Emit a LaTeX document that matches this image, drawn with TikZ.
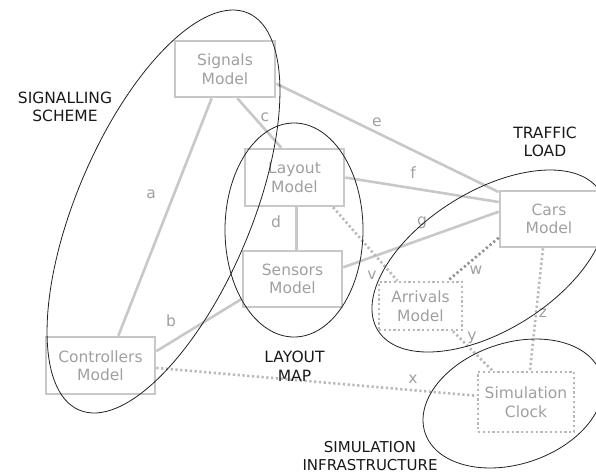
\documentclass[tikz,border=0pt]{standalone}
\usepackage{fontspec}
\setmainfont{DejaVu Sans}
\usetikzlibrary{calc}
\definecolor{boxc}{HTML}{C8C8C8}
\definecolor{txtc}{HTML}{A0A0A0}
\definecolor{dotc}{HTML}{B8B8B8}
\definecolor{dotd}{HTML}{909090}
\definecolor{ellc}{HTML}{222222}
\begin{document}
\begin{tikzpicture}[x=1pt,y=-1pt,
  model/.style={draw=boxc,line width=2.6pt,text=txtc,align=center,inner sep=0pt,
    font=\fontsize{15.5}{18.5}\selectfont},
  dmodel/.style={model,draw=dotc,dash pattern=on 2.2pt off 2.6pt},
  link/.style={draw=boxc,line width=2.6pt},
  dlink/.style={draw=dotc,line width=2.6pt,dash pattern=on 2.2pt off 2.6pt},
  dlinkdark/.style={dlink,draw=dotd},
  lbl/.style={text=txtc,font=\fontsize{15.5}{18.5}\selectfont,inner sep=0pt},
  group/.style={text=black!90,align=center,font=\fontsize{15.5}{18.5}\selectfont,inner sep=0pt},
  hull/.style={draw=ellc,line width=0.8pt}]
\useasboundingbox (0,0) rectangle (596,475);
\clip (0,0) rectangle (596,475);

% boxes
\node[model,minimum width=100pt,minimum height=56pt] (sig) at (225,69) {Signals\\Model};
\node[model,minimum width=99pt,minimum height=57pt] (lay) at (294.5,177.5) {Layout\\Model};
\node[model,minimum width=99pt,minimum height=56pt] (sen) at (292.5,279) {Sensors\\Model};
\node[model,minimum width=109pt,minimum height=57pt] (con) at (100.5,365.5) {Controllers\\Model};
\node[model,minimum width=98pt,minimum height=56pt] (car) at (549,219) {Cars\\Model};
\node[dmodel,minimum width=83pt,minimum height=48pt] (arr) at (420.5,306) {Arrivals\\Model};
\node[dmodel,minimum width=96pt,minimum height=60pt] (clk) at (526,402) {Simulation\\Clock};

% solid connectors
\draw[link] ($(sig.south west)!0.37!(sig.south east)$) -- ($(con.north west)!0.66!(con.north east)$);
\draw[link] ($(con.north east)!0.26!(con.south east)$) -- ($(sen.north west)!0.84!(sen.south west)$);
\draw[link] ($(sig.south west)!0.62!(sig.south east)$) -- ($(lay.north west)!0.37!(lay.north east)$);
\draw[link] ($(lay.south west)!0.52!(lay.south east)$) coordinate (dtop) -- (dtop |- sen.north);
\draw[link] ($(sig.north east)!0.75!(sig.south east)$) -- ($(car.north west)!0.04!(car.south west)$);
\draw[link] (lay.east) -- ($(car.north west)!0.21!(car.south west)$);
\draw[link] ($(sen.north east)!0.30!(sen.south east)$) -- ($(car.north west)!0.375!(car.south west)$);

% dotted connectors
\draw[dlink] ($(lay.south west)!0.88!(lay.south east)$) -- ($(arr.north west)!0.23!(arr.north east)$);
\draw[dlinkdark] ($(car.north west)!0.82!(car.south west)$) -- ($(arr.north west)!0.82!(arr.north east)$);
\draw[dlink] ($(con.north east)!0.54!(con.south east)$) -- ($(clk.north west)!0.4!(clk.south west)$);
\draw[dlink] ($(arr.south west)!0.88!(arr.south east)$) -- ($(clk.north west)!0.16!(clk.north east)$);
\draw[dlink] ($(car.south west)!0.44!(car.south east)$) -- ($(clk.north west)!0.54!(clk.north east)$);

% connector labels
\node[lbl] (la) at (151,194) {a};
\node[lbl] (lb) at (171,321) {b};
\node[lbl] (lc) at (265,117) {c};
\node[lbl] (ld) at (276,222) {d};
\node[lbl] (le) at (377,122) {e};
\node[lbl] (lf) at (413,173) {f};
\node[lbl] (lg) at (422,223) {g};
\node[lbl] (lv) at (372,275) {v};
\node[lbl] (lw) at (476,270) {w};
\node[lbl] (lx) at (413,379) {x};
\node[lbl] (ly) at (472,338) {y};
\node[lbl] (lz) at (543,313) {z};

% group labels
\node[group] (gsig) at (65,107) {SIGNALLING\\SCHEME};
\node[group] (gtra) at (545,142) {TRAFFIC\\LOAD};
\node[group] (glay) at (294.5,366) {LAYOUT\\MAP};
\node[group,font=\fontsize{15}{18}\selectfont] (gsim) at (370,456) {SIMULATION\\INFRASTRUCTURE};

% grouping ellipses
\draw[hull,rotate around={67:(163.5,211.5)}] (163.5,211.5) ellipse [x radius=215.7, y radius=87.3];
\draw[hull] (294,230) ellipse [x radius=69, y radius=107];
\draw[hull,rotate around={32:(489,261)}] (489,261) ellipse [x radius=131, y radius=69.4];
\draw[hull,rotate around={18.5:(513,403.5)}] (513,403.5) ellipse [x radius=92.7, y radius=60.5];
\end{tikzpicture}
\end{document}
